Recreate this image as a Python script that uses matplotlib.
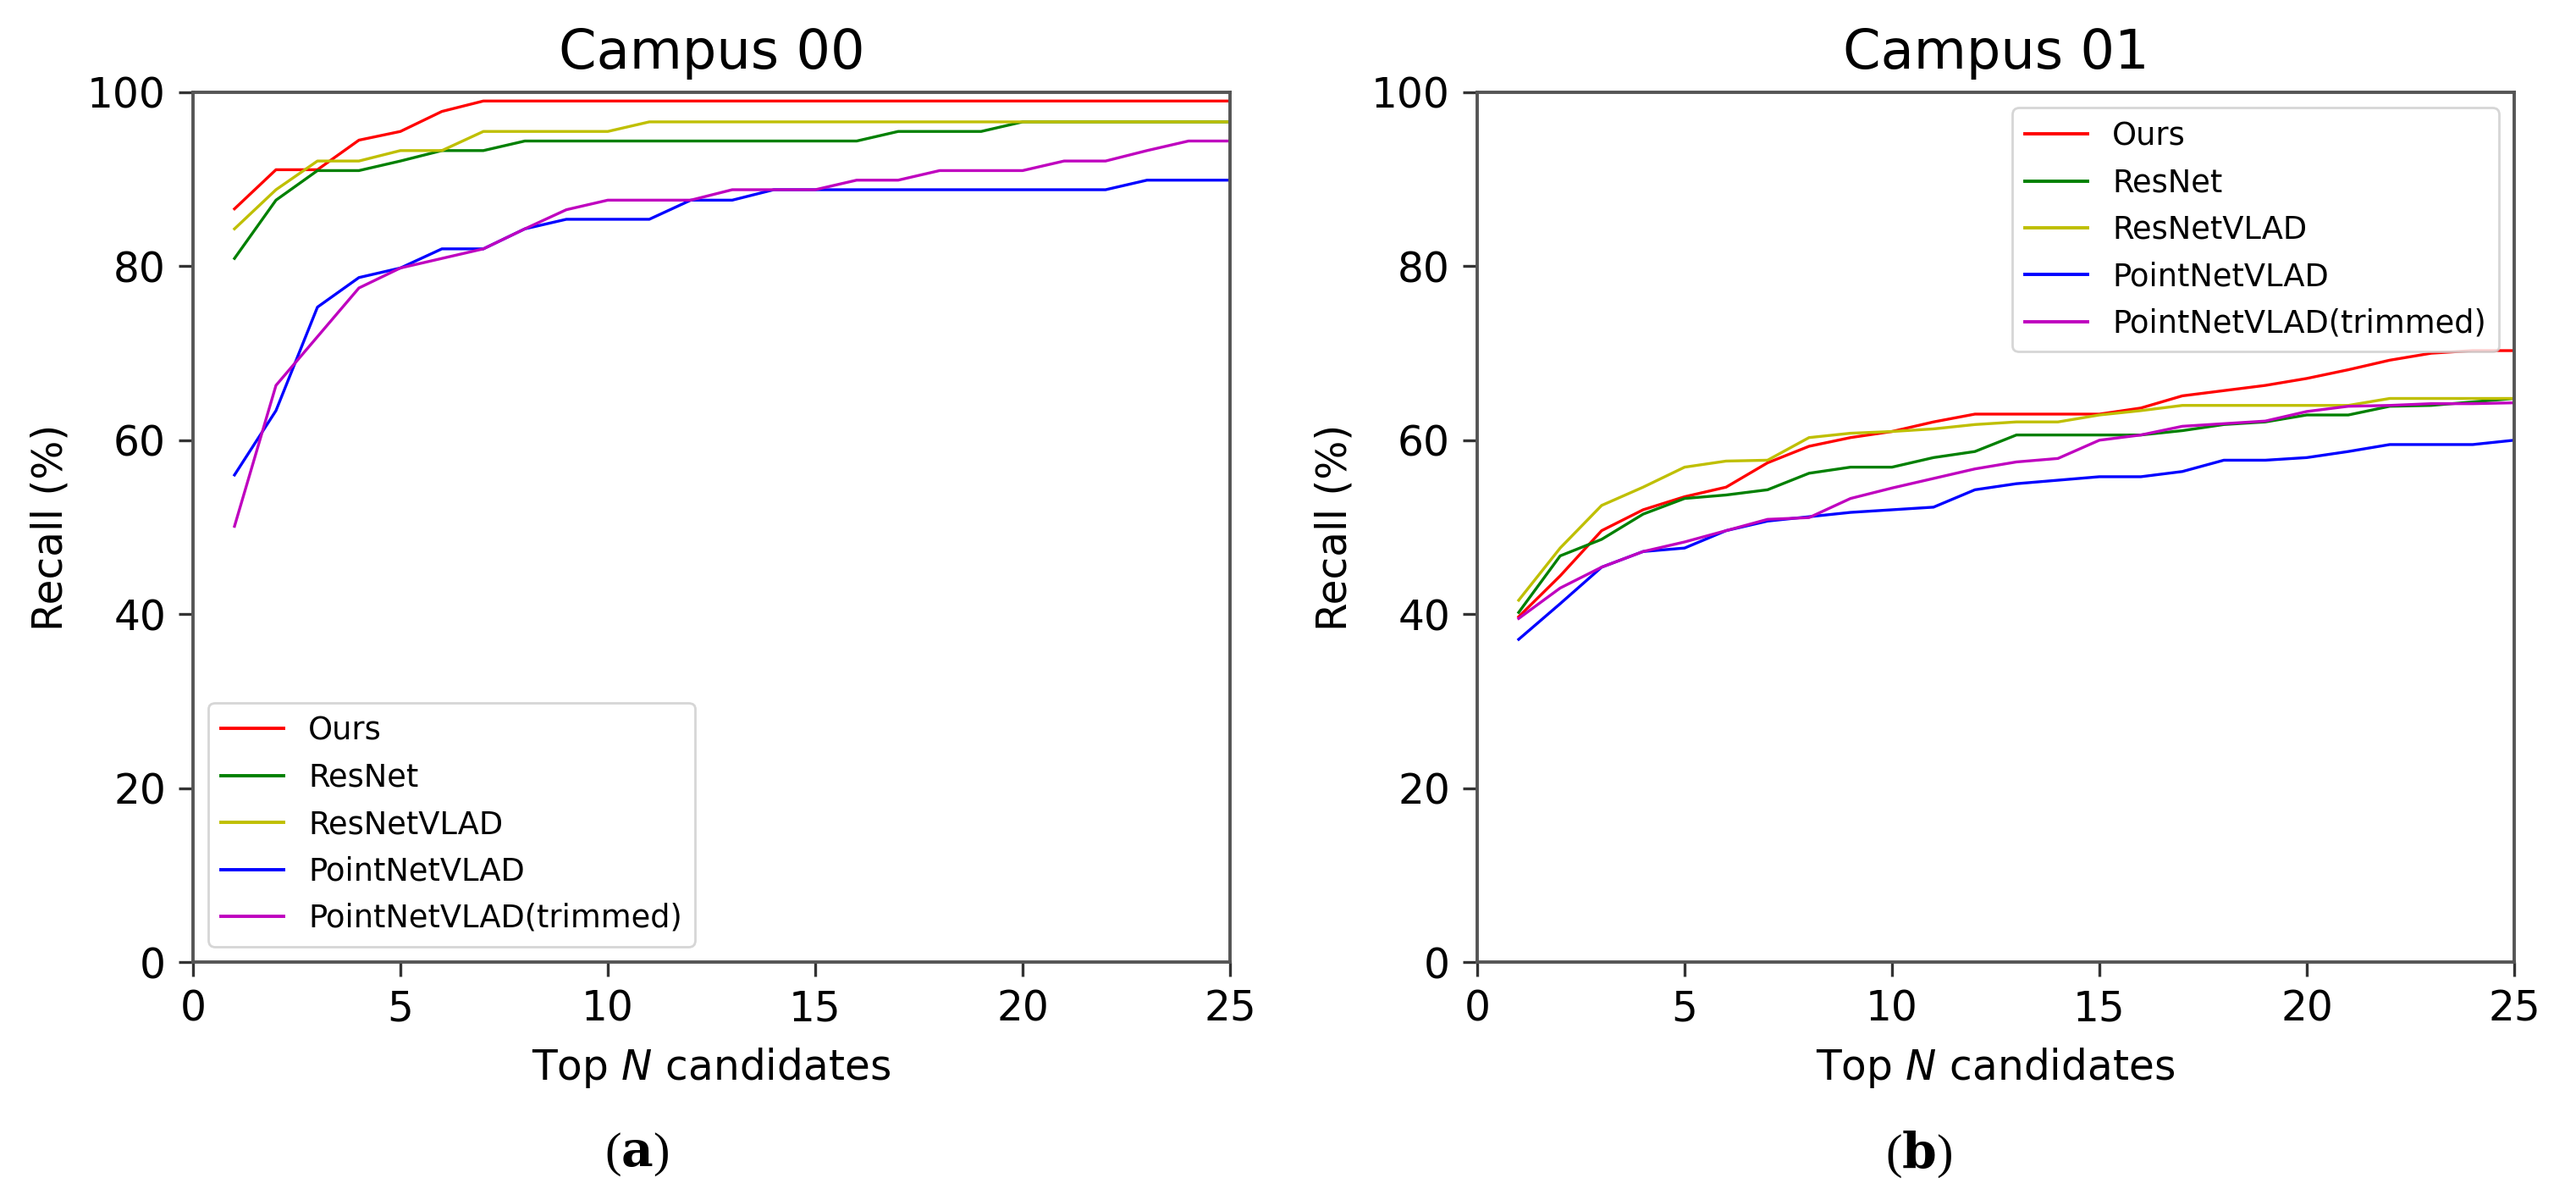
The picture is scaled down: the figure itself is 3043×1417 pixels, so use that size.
import matplotlib
matplotlib.use("Agg")
from matplotlib import pyplot as plt

# Top N candidates
top_n = list(range(1, 26))

labels = ["Ours", "ResNet", "ResNetVLAD", "PointNetVLAD", "PointNetVLAD(trimmed)"]
colors = ["r", "g", "y", "b", "m"]

# Campus 00 recall (%)
ours_00 = [86.6, 91.1, 91.1, 94.5, 95.5, 97.8] + [99.0] * 19
resnet_00 = [80.9, 87.6, 91.0, 91.0, 92.1, 93.3, 93.3] + [94.4] * 9 + [95.5] * 3 + [96.6] * 6
resnetvlad_00 = [84.3, 88.8, 92.1, 92.1, 93.3, 93.3, 95.5, 95.5, 95.5, 95.5] + [96.6] * 15
pointnetvlad_00 = [56.0, 63.4, 75.3, 78.7, 79.8, 82.0, 82.0, 84.3, 85.4, 85.4, 85.4, 87.6, 87.6] + [88.8] * 9 + [89.9] * 3
trimmed_00 = [50.1, 66.3, 71.9, 77.5, 79.8, 80.9, 82.0, 84.3, 86.5, 87.6, 87.6, 87.6, 88.8,
              88.8, 88.8, 89.9, 89.9, 91.0, 91.0, 91.0, 92.1, 92.1, 93.3, 94.4, 94.4]

# Campus 01 recall (%)
ours_01 = [39.7, 44.4, 49.6, 52.0, 53.5, 54.6, 57.4, 59.3, 60.3, 61.0, 62.1, 63.0, 63.0,
           63.0, 63.0, 63.7, 65.1, 65.7, 66.3, 67.1, 68.1, 69.2, 70.0, 70.3, 70.3]
resnet_01 = [40.2, 46.7, 48.6, 51.5, 53.3, 53.7, 54.3, 56.2, 56.9, 56.9, 58.0, 58.7, 60.6,
             60.6, 60.6, 60.6, 61.1, 61.8, 62.1, 62.9, 62.9, 63.9, 64.0, 64.4, 64.8]
resnetvlad_01 = [41.6, 47.6, 52.5, 54.6, 56.9, 57.6, 57.7, 60.3, 60.8, 61.0, 61.3, 61.8, 62.1,
                 62.1, 62.9, 63.4, 64.0, 64.0, 64.0, 64.0, 64.0, 64.8, 64.8, 64.8, 64.8]
pointnetvlad_01 = [37.1, 41.2, 45.4, 47.2, 47.6, 49.6, 50.7, 51.2, 51.7, 52.0, 52.3, 54.3, 55.0,
                   55.4, 55.8, 55.8, 56.4, 57.7, 57.7, 58.0, 58.7, 59.5, 59.5, 59.5, 60.0]
trimmed_01 = [39.5, 43.0, 45.4, 47.2, 48.3, 49.6, 50.9, 51.1, 53.3, 54.5, 55.6, 56.7, 57.5,
              57.9, 60.0, 60.6, 61.6, 61.9, 62.2, 63.3, 63.9, 64.0, 64.2, 64.2, 64.3]

series_00 = [ours_00, resnet_00, resnetvlad_00, pointnetvlad_00, trimmed_00]
series_01 = [ours_01, resnet_01, resnetvlad_01, pointnetvlad_01, trimmed_01]

W, H = 3043, 1417
fig = plt.figure(figsize=(W / 100, H / 100), dpi=100)

# axes boxes (pixels)
ax_w, ax_h = 1225 / W, 1027 / H
ax_b = (H - 1136) / H
ax1 = fig.add_axes([228 / W, ax_b, ax_w, ax_h])
ax2 = fig.add_axes([1745 / W, ax_b, ax_w, ax_h])

spine_col = "#555555"


def draw(ax, series, title, legend_loc):
    for vals, lab, col in zip(series, labels, colors):
        ax.plot(top_n, vals, color=col, lw=2.4, label=lab)
    ax.set_xlim(0, 25)
    ax.set_ylim(0, 100)
    ax.set_xticks([0, 5, 10, 15, 20, 25])
    ax.set_yticks([0, 20, 40, 60, 80, 100])
    ax.tick_params(labelsize=35, length=12, width=2.4, pad=11, color="#333333")
    for s in ax.spines.values():
        s.set_linewidth(2.8)
        s.set_color(spine_col)
    ax.set_title(title, fontsize=46, pad=20)
    ax.set_xlabel("Top $N$ candidates", fontsize=35, labelpad=14)
    ax.set_ylabel("Recall (%)", fontsize=35, labelpad=14)
    leg = ax.legend(loc=legend_loc, fontsize=26.5, borderaxespad=0.5)
    leg.get_frame().set_linewidth(2.0)
    for line in leg.get_lines():
        line.set_linewidth(2.8)


draw(ax1, series_00, "Campus 00", "lower left")
draw(ax2, series_01, "Campus 01", "upper right")

# sub-figure captions
fig.text(0.247, 0.038, r"($\mathbf{a}$)", ha="center", va="center", fontsize=42,
         family="Liberation Serif", math_fontfamily="dejavuserif")
fig.text(0.745, 0.038, r"($\mathbf{b}$)", ha="center", va="center", fontsize=42,
         family="Liberation Serif", math_fontfamily="dejavuserif")

fig.savefig("out.png", dpi=100, facecolor="white")
